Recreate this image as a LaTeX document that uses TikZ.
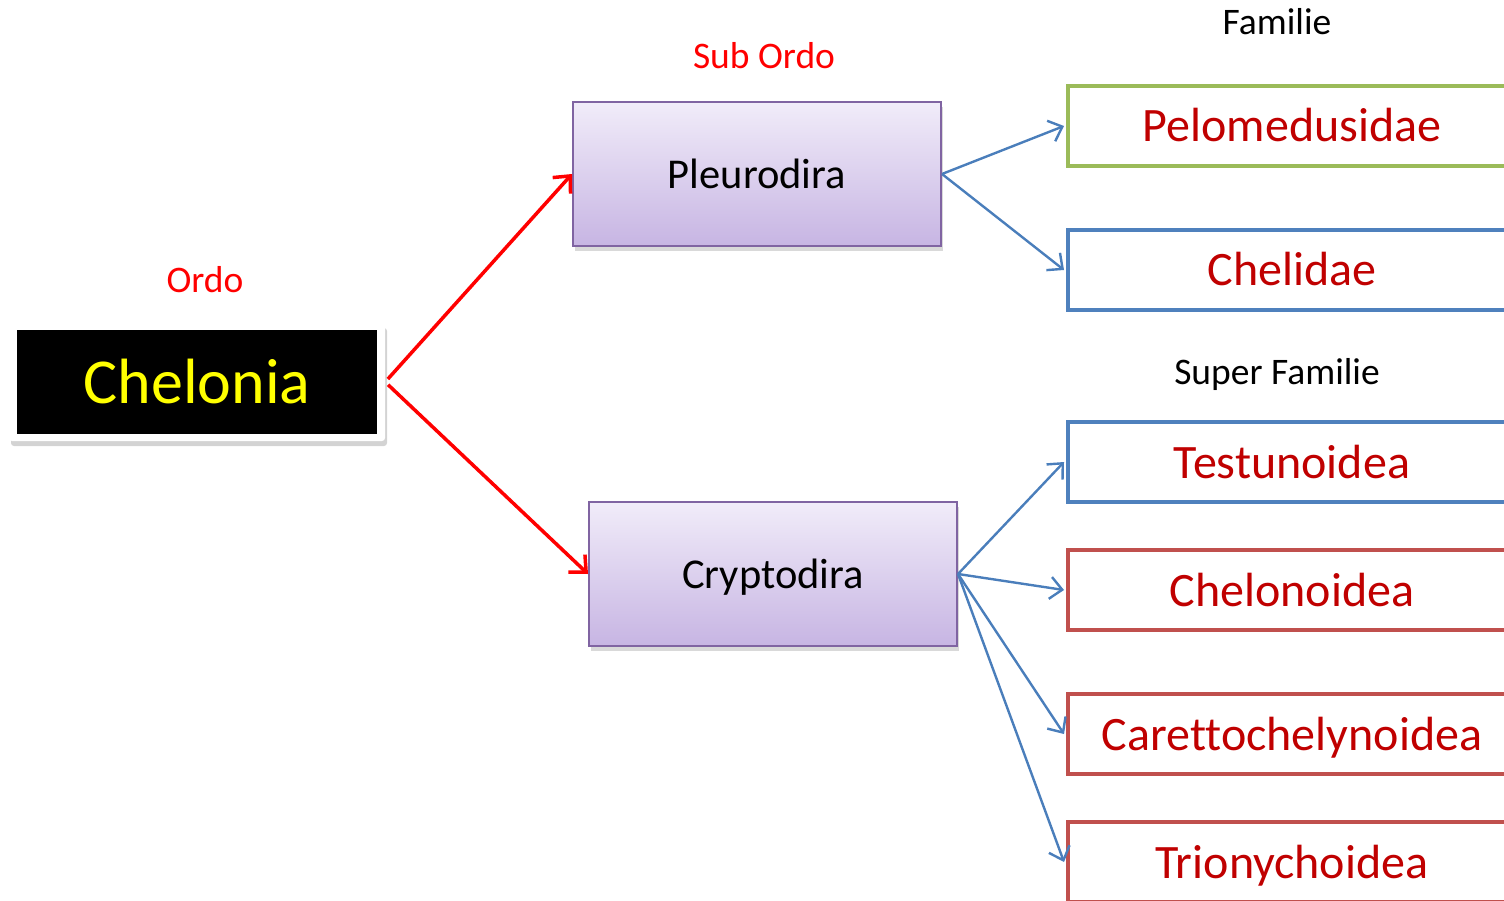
\documentclass[tikz,border=0pt]{standalone}
\usepackage{fontspec}
\setmainfont[Ligatures=NoCommon]{Carlito}
\usetikzlibrary{arrows.meta,shadows}
\definecolor{purpB}{HTML}{8064A2}
\definecolor{purpT}{HTML}{F1ECF9}
\definecolor{purpBot}{HTML}{C7B5E3}
\definecolor{grn}{HTML}{9BBB59}
\definecolor{blu}{HTML}{4F81BD}
\definecolor{rdb}{HTML}{C0504D}
\definecolor{darkred}{HTML}{C00000}
\definecolor{arrblue}{HTML}{4A7EBB}
\tikzset{
  x=1pt, y=-1pt,
  lbl/.style={inner sep=0pt, font=\fontsize{37.5}{44}\selectfont},
  subbox/.style={draw=purpB, line width=2pt, top color=purpT, bottom color=purpBot,
    minimum width=368pt, minimum height=144pt, inner sep=0pt, text height=29pt, text depth=0pt,
    drop shadow={shadow xshift=2pt, shadow yshift=-5pt, opacity=0.3},
    font=\fontsize{42.5}{50}\selectfont},
  fambox/.style={draw=#1, line width=4pt, fill=white, minimum width=448pt, minimum height=80pt,
    inner sep=0pt, text height=32pt, text depth=0pt, text=darkred, font=\fontsize{48}{56}\selectfont},
  redarr/.style={draw=red, line width=3.5pt, -{Straight Barb[length=13pt,width=24pt,line width=3.5pt]}},
  bluearr/.style={draw=arrblue, line width=2.4pt, -{Straight Barb[length=12pt,width=22pt,line width=2.4pt]}},
}
\begin{document}
\begin{tikzpicture}
\useasboundingbox (0,0) rectangle (1504,901);
\clip (0,0) rectangle (1504,901);
% labels
\node[lbl] (lfam) at (1277,22) {Familie};
\node[lbl, text=red] (lsub) at (764,56) {Sub Ordo};
\node[lbl, text=red] (lordo) at (205,280) {Ordo};
\node[lbl] (lsup) at (1277,375) {Super Familie};
% Chelonia
\node[fill=white, rounded corners=3pt, minimum width=376pt, minimum height=118pt, inner sep=0pt,
  drop shadow={shadow xshift=2pt, shadow yshift=-5pt, opacity=0.35}] (chelframe) at (197,382) {};
\node[fill=black, minimum width=360pt, minimum height=104pt, inner sep=0pt, text={rgb,255:red,255;green,255;blue,0},
  font=\fontsize{64}{72}\selectfont] (chel) at (197,382) {Chelonia};
% sub orders
\node[subbox] (pleu) at (757,174) {Pleurodira};
\node[subbox] (cryp) at (773,574) {Cryptodira};
% families
\node[fambox=grn] (pelo) at (1292,126) {Pelomedusidae};
\node[fambox=blu] (cheli) at (1292,270) {Chelidae};
\node[fambox=blu] (test) at (1292,462) {Testunoidea};
\node[fambox=rdb] (chelo) at (1292,590) {Chelonoidea};
\node[fambox=rdb] (care) at (1292,734) {Carettochelynoidea};
\node[fambox=rdb] (trio) at (1292,862) {Trionychoidea};
% connectors
\draw[redarr, shorten <=4pt] (chelframe.east) -- (pleu.west);
\draw[redarr, shorten <=4pt] (chelframe.east) -- (cryp.west);
\draw[bluearr] (pleu.east) -- ([xshift=-2pt]pelo.west);
\draw[bluearr] (pleu.east) -- ([xshift=-2pt]cheli.west);
\draw[bluearr] (cryp.east) -- ([xshift=-2pt]test.west);
\draw[bluearr] (cryp.east) -- ([xshift=-2pt]chelo.west);
\draw[bluearr] (cryp.east) -- ([xshift=-2pt]care.west);
\draw[bluearr] (cryp.east) -- ([xshift=-2pt]trio.west);
\end{tikzpicture}
\end{document}
